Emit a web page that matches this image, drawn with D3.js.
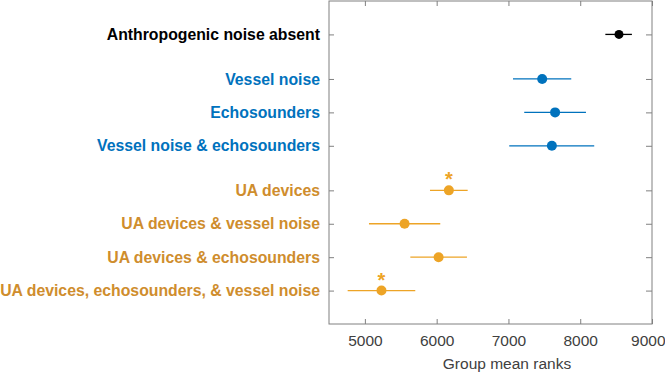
<!DOCTYPE html>
<html><head><meta charset="utf-8">
<script src="https://cdn.jsdelivr.net/npm/d3@7"></script>
<style>body{margin:0;background:#fff}svg{display:block}</style>
</head><body>
<svg id="c" width="665" height="372"></svg>
<script>
const categories = ["Anthropogenic noise absent","Vessel noise","Echosounders","Vessel noise & echosounders","UA devices","UA devices & vessel noise","UA devices & echosounders","UA devices, echosounders, & vessel noise"];
const groups = [0,1,1,1,2,2,2,2];
const means = [8540,7470,7650,7605,6170,5553,6027,5231];
const lower = [8350,7063,7220,7011,5907,5057,5633,4760];
const upper = [8720,7875,8080,8195,6432,6050,6422,5702];
const significant = [false,false,false,false,true,false,false,true];
const xTicks = [5000,6000,7000,8000,9000];
const groupColors = ["#000000","#0072BD","#EDA426"];
const labelColors = ["#000000","#0072BD","#CF8D2D"];

const svg = d3.select("#c");
const L=329, R=652, T=1, B=324;
const FONT = "Liberation Sans, Arial, sans-serif";
const x = d3.scaleLinear().domain([4500,9000]).range([L,R]);
const pos = categories.map((c,i)=>i + groups[i]/3);
const y = d3.scaleLinear().domain([-1, pos[pos.length-1]+1]).range([T,B]);
const axisCol = "#808080";

// box
svg.append("rect").attr("x",L).attr("y",T).attr("width",R-L).attr("height",B-T)
  .attr("fill","none").attr("stroke",axisCol).attr("stroke-width",1);

// x axis bottom
const xb = svg.append("g").attr("transform",`translate(0,${B})`)
  .call(d3.axisBottom(x).tickValues(xTicks).tickSizeInner(-5).tickSizeOuter(0).tickPadding(11).tickFormat(d3.format("d")));
xb.select(".domain").remove();
xb.selectAll("line").attr("stroke",axisCol);
xb.selectAll("text").attr("font-family",FONT).attr("font-size",15.5).attr("fill","#404040");
xb.selectAll(".tick").filter(d=>d===9000).select("text").attr("text-anchor","end").attr("x",13);
// x axis top ticks
const xt = svg.append("g").attr("transform",`translate(0,${T})`)
  .call(d3.axisTop(x).tickValues(xTicks).tickSizeInner(-5).tickSizeOuter(0).tickFormat(""));
xt.select(".domain").remove();
xt.selectAll("line").attr("stroke",axisCol);

// y axis left
const yl = svg.append("g").attr("transform",`translate(${L},0)`)
  .call(d3.axisLeft(y).tickValues(pos).tickSizeInner(-5).tickSizeOuter(0).tickPadding(9).tickFormat((d,i)=>categories[i]));
yl.select(".domain").remove();
yl.selectAll("line").attr("stroke",axisCol);
yl.selectAll("text").attr("font-family",FONT).attr("font-size",15.8)
  .attr("font-weight","bold").attr("fill",(d,i)=>labelColors[groups[i]]);
// y axis right ticks
const yr = svg.append("g").attr("transform",`translate(${R},0)`)
  .call(d3.axisRight(y).tickValues(pos).tickSizeInner(-6).tickSizeOuter(0).tickFormat(""));
yr.select(".domain").remove();
yr.selectAll("line").attr("stroke",axisCol);

// x label
svg.append("text").attr("x",507).attr("y",369).attr("text-anchor","middle")
  .attr("font-family",FONT).attr("font-size",15.5).attr("fill","#404040")
  .text("Group mean ranks");

// intervals
const g = svg.append("g");
g.selectAll("line.ci").data(categories).join("line").attr("class","ci")
  .attr("x1",(d,i)=>x(lower[i])).attr("x2",(d,i)=>x(upper[i]))
  .attr("y1",(d,i)=>y(pos[i])).attr("y2",(d,i)=>y(pos[i]))
  .attr("stroke",(d,i)=>groupColors[groups[i]]).attr("stroke-width",1.3);
g.selectAll("circle").data(categories).join("circle")
  .attr("cx",(d,i)=>x(means[i])).attr("cy",(d,i)=>y(pos[i]))
  .attr("r",(d,i)=>groups[i]===0?4.5:5)
  .attr("fill",(d,i)=>groupColors[groups[i]]);
g.selectAll("text.star").data(categories.filter((d,i)=>significant[i])).join("text").attr("class","star")
  .attr("x",d=>x(means[categories.indexOf(d)]))
  .attr("y",d=>y(pos[categories.indexOf(d)])-4)
  .attr("text-anchor","middle").attr("font-family",FONT)
  .attr("font-size",20).attr("font-weight","bold").attr("fill",groupColors[2]).text("*");
</script>
</body></html>
